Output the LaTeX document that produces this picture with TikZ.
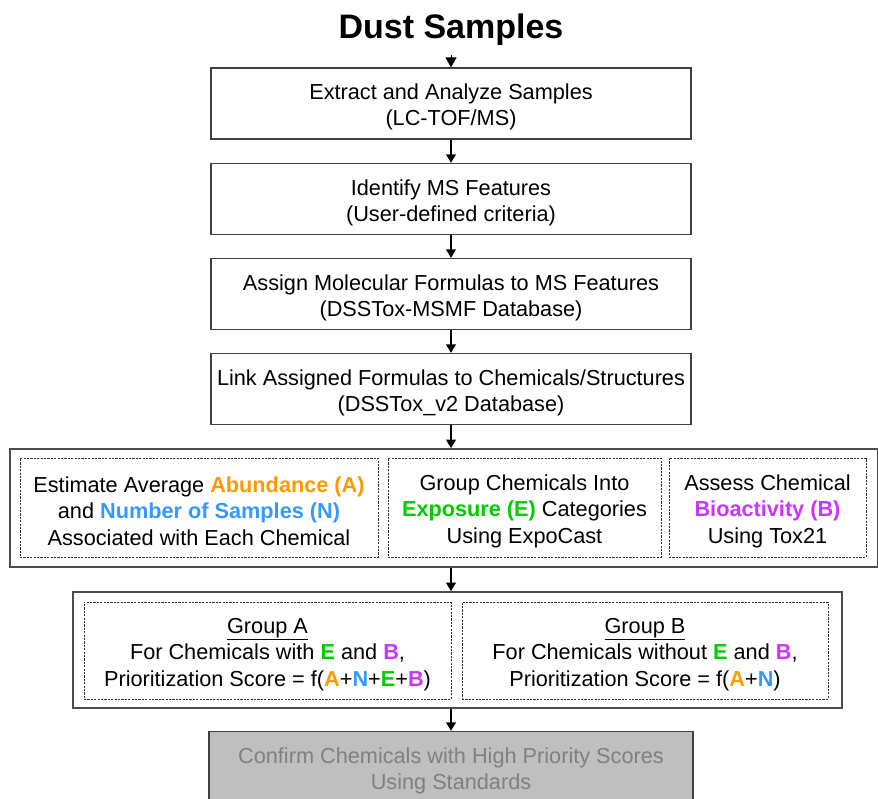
\documentclass[tikz,border=0pt]{standalone}
\usepackage{fontspec}
\setmainfont{Liberation Sans}
\usetikzlibrary{positioning,arrows.meta}
\definecolor{abundcol}{RGB}{255,153,0}
\definecolor{numcol}{RGB}{51,153,255}
\definecolor{expcol}{RGB}{0,204,0}
\definecolor{biocol}{RGB}{204,51,255}
\newcommand{\abA}{\textbf{\color{abundcol}A}}
\newcommand{\abN}{\textbf{\color{numcol}N}}
\newcommand{\abE}{\textbf{\color{expcol}E}}
\newcommand{\abB}{\textbf{\color{biocol}B}}
\newcommand{\lift}{\rule{0pt}{23pt}}

\begin{document}
\begin{tikzpicture}[x=1pt, y=-1pt, font=\fontsize{21.7}{26.3}\selectfont,
  stepbox/.style={draw=black!75, line width=1.2pt, minimum width=480pt, minimum height=71pt, align=center},
  outerbox/.style={draw=black!70, line width=1.6pt},
  dashbox/.style={draw=black!80, line width=0.9pt, dash pattern=on 2.2pt off 1.2pt, align=center},
  flow/.style={-{Triangle[length=8.5pt,width=9.5pt]}, line width=2.6pt},
  thinflow/.style={-{Triangle[length=10pt,width=11pt]}, line width=1pt}]
\useasboundingbox (0,0) rectangle (878,798);

\node[font=\fontsize{34}{36}\selectfont\bfseries, inner sep=1pt] (title) at (451,30) {Dust Samples};

\node[stepbox] (extract) at (451,103.5) {\lift Extract and Analyze Samples\\(LC-TOF/MS)};
\node[stepbox] (identify) at (451,199) {\lift Identify MS Features\\(User-defined criteria)};
\node[stepbox] (assign) at (451,294) {\lift Assign Molecular Formulas to MS Features\\(DSSTox-MSMF Database)};
\node[stepbox] (link) at (451,389) {\lift Link Assigned Formulas to Chemicals/Structures\\(DSSTox\_v2 Database)};

% estimate / exposure / bioactivity
\node[outerbox, minimum width=868pt, minimum height=118pt] (profile) at (444,508) {};
\node[dashbox, minimum width=358pt, minimum height=99pt] (abund) at (199,507.5)
  {\lift Estimate Average \textbf{\color{abundcol}Abundance (A)}\\and \textbf{\color{numcol}Number of Samples (N)}\\Associated with Each Chemical};
\node[dashbox, minimum width=273pt, minimum height=99pt] (expo) at (524.5,507.5)
  {\lift Group Chemicals Into\\\textbf{\color{expcol}Exposure (E)} Categories\\Using ExpoCast};
\node[dashbox, minimum width=197pt, minimum height=99pt] (bioact) at (767.5,507.5)
  {\lift Assess Chemical\\\textbf{\color{biocol}Bioactivity (B)}\\Using Tox21};

% scoring groups
\node[outerbox, minimum width=769pt, minimum height=116pt] (score) at (457.5,650) {};
\node[dashbox, minimum width=367pt, minimum height=97pt] (groupa) at (267.5,650.5)
  {\lift\underline{Group A}\\For Chemicals with \abE{} and \abB,\\Prioritization Score = f(\abA+\abN+\abE+\abB)};
\node[dashbox, minimum width=366pt, minimum height=97pt] (groupb) at (645,650.5)
  {\lift\underline{Group B}\\For Chemicals without \abE{} and \abB,\\Prioritization Score = f(\abA+\abN)};

\node[stepbox, minimum width=484pt, fill=black!25, text=black!50] (confirm) at (451,767)
  {\lift Confirm Chemicals with High Priority Scores\\Using Standards};

\draw[thinflow, shorten <=8pt] (title.south) -- (extract.north);
\draw[flow] (extract) -- (identify);
\draw[flow] (identify) -- (assign);
\draw[flow] (assign) -- (link);
\draw[flow] (link.south) -- (link.south |- profile.north);
\draw[flow] (link.south |- profile.south) -- (link.south |- score.north);
\draw[flow] (link.south |- score.south) -- (confirm.north);
\end{tikzpicture}
\end{document}
